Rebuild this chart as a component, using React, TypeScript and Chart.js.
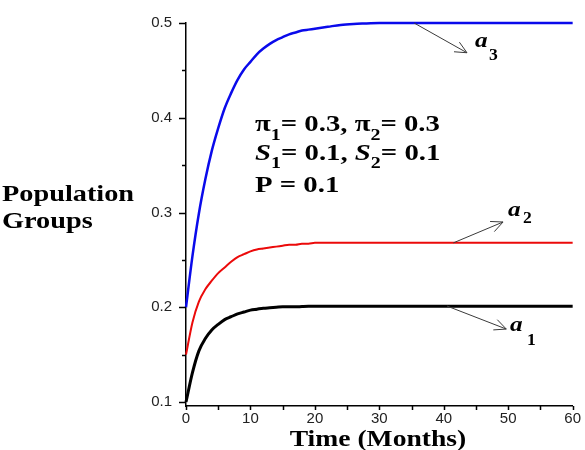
import { useEffect, useRef } from "react";
import { Chart, registerables } from "chart.js";

Chart.register(...registerables);

// Time in months
const months = [
  0, 1, 2, 3, 4, 5, 6, 7, 8, 9, 10, 11, 12, 13, 14, 15, 16, 17, 18, 19, 20,
  22, 24, 26, 28, 30, 35, 40, 45, 50, 55, 60,
];

// Population group a1 (black)
const groupA1 = [
  0.1, 0.131, 0.154, 0.167, 0.176, 0.182, 0.187, 0.19, 0.193, 0.195, 0.197,
  0.198, 0.199, 0.1995, 0.2, 0.2005, 0.2005, 0.2005, 0.2008, 0.201, 0.201,
  0.201, 0.201, 0.201, 0.201, 0.201, 0.201, 0.201, 0.201, 0.201, 0.201, 0.201,
];

// Population group a2 (red)
const groupA2 = [
  0.15, 0.184, 0.206, 0.219, 0.228, 0.236, 0.242, 0.248, 0.253, 0.256, 0.259,
  0.261, 0.262, 0.263, 0.264, 0.265, 0.266, 0.266, 0.267, 0.267, 0.268,
  0.268, 0.268, 0.268, 0.268, 0.268, 0.268, 0.268, 0.268, 0.268, 0.268, 0.268,
];

// Population group a3 (blue)
const groupA3 = [
  0.2, 0.254, 0.299, 0.335, 0.365, 0.389, 0.41, 0.426, 0.44, 0.451, 0.459,
  0.467, 0.473, 0.478, 0.482, 0.485, 0.488, 0.49, 0.492, 0.493, 0.494,
  0.496, 0.498, 0.499, 0.4995, 0.5, 0.5, 0.5, 0.5, 0.5, 0.5, 0.5,
];

const xTickValues = [0, 5, 10, 15, 20, 25, 30, 35, 40, 45, 50, 55, 60];
const yTickValues = [0.1, 0.15, 0.2, 0.25, 0.3, 0.35, 0.4, 0.45, 0.5];

// Curve labels: arrow from a point on the curve to the label (data coordinates)
const curveLabels = [
  { name: "a", sub: "3", from: [35.4, 0.5], to: [43.6, 0.4686], text: [475, 47], subAt: [489, 60] },
  { name: "a", sub: "2", from: [41.5, 0.268], to: [49.2, 0.29], text: [508, 216], subAt: [523, 223] },
  { name: "a", sub: "1", from: [40.5, 0.2013], to: [49.7, 0.177], text: [510, 331], subAt: [527, 345] },
];

const SERIF = "'Liberation Serif', 'Times New Roman', serif";
const SX = 1.2;

type Run = { t: string; font: string; dy?: number };

function drawRuns(ctx: CanvasRenderingContext2D, runs: Run[], x: number, y: number, sx = SX) {
  let cx = x;
  for (const r of runs) {
    ctx.save();
    ctx.font = r.font;
    ctx.textAlign = "left";
    ctx.textBaseline = "alphabetic";
    const w = ctx.measureText(r.t).width * sx;
    ctx.translate(cx, y + (r.dy || 0));
    ctx.scale(sx, 1);
    ctx.fillText(r.t, 0, 0);
    ctx.restore();
    cx += w;
  }
  return cx;
}

function drawCentered(ctx: CanvasRenderingContext2D, text: string, font: string, cx: number, y: number, sx = SX) {
  ctx.save();
  ctx.font = font;
  const w = ctx.measureText(text).width * sx;
  ctx.restore();
  drawRuns(ctx, [{ t: text, font }], cx - w / 2, y, sx);
}

function arrow(ctx: CanvasRenderingContext2D, x1: number, y1: number, x2: number, y2: number) {
  const ang = Math.atan2(y2 - y1, x2 - x1);
  const len = 13;
  const spread = (25 * Math.PI) / 180;
  ctx.beginPath();
  ctx.moveTo(x1, y1);
  ctx.lineTo(x2, y2);
  ctx.moveTo(x2 - len * Math.cos(ang - spread), y2 - len * Math.sin(ang - spread));
  ctx.lineTo(x2, y2);
  ctx.lineTo(x2 - len * Math.cos(ang + spread), y2 - len * Math.sin(ang + spread));
  ctx.stroke();
}

const decorations = {
  id: "decorations",
  afterDraw(chart: any) {
    const ctx: CanvasRenderingContext2D = chart.ctx;
    const xs = chart.scales.x;
    const ys = chart.scales.y;
    const { left, bottom } = chart.chartArea;

    ctx.save();
    // tick marks
    ctx.strokeStyle = "#000";
    ctx.lineWidth = 1.5;
    ctx.beginPath();
    for (const v of yTickValues) {
      const y = Math.round(ys.getPixelForValue(v)) + 0.5;
      const major = Math.abs(v * 10 - Math.round(v * 10)) < 1e-6;
      const len = major ? 7 : 4;
      ctx.moveTo(left - len, y);
      ctx.lineTo(left, y);
    }
    for (const v of xTickValues) {
      const x = Math.round(xs.getPixelForValue(v)) + 0.5;
      ctx.moveTo(x, bottom);
      ctx.lineTo(x, bottom + 4);
    }
    ctx.stroke();

    // arrows to curve labels
    ctx.strokeStyle = "#3a3a3a";
    ctx.lineWidth = 1;
    ctx.fillStyle = "#000";
    for (const c of curveLabels) {
      arrow(
        ctx,
        xs.getPixelForValue(c.from[0]),
        ys.getPixelForValue(c.from[1]),
        xs.getPixelForValue(c.to[0]),
        ys.getPixelForValue(c.to[1])
      );
      drawRuns(ctx, [{ t: c.name, font: `italic bold 21px ${SERIF}` }], c.text[0], c.text[1]);
      drawRuns(ctx, [{ t: c.sub, font: `bold 16px ${SERIF}` }], c.subAt[0], c.subAt[1], 1.1);
    }

    // parameter block
    const big = `bold 23px ${SERIF}`;
    const ital = `italic bold 23px ${SERIF}`;
    const sub = `bold 16px ${SERIF}`;
    const psx = 1.25;
    drawRuns(
      ctx,
      [
        { t: "\u03c0", font: big },
        { t: "1", font: sub, dy: 9 },
        { t: "= 0.3, ", font: big },
        { t: "\u03c0", font: big },
        { t: "2", font: sub, dy: 9 },
        { t: "= 0.3", font: big },
      ],
      255,
      131,
      psx
    );
    drawRuns(
      ctx,
      [
        { t: "S", font: ital },
        { t: "1", font: sub, dy: 8 },
        { t: "= 0.1, ", font: big },
        { t: "S", font: ital },
        { t: "2", font: sub, dy: 8 },
        { t: "= 0.1", font: big },
      ],
      255,
      160,
      psx
    );
    drawRuns(ctx, [{ t: "P = 0.1", font: big }], 255, 192, psx);

    // axis titles
    const title = `bold 23px ${SERIF}`;
    drawRuns(ctx, [{ t: "Population", font: title }], 2, 201, 1.23);
    drawRuns(ctx, [{ t: "Groups", font: title }], 2, 228, 1.23);
    drawCentered(ctx, "Time (Months)", title, 378, 446, 1.2);

    ctx.restore();
  },
};

export default function App() {
  const canvasRef = useRef<HTMLCanvasElement | null>(null);

  useEffect(() => {
    const canvas = canvasRef.current;
    if (!canvas) return;

    const series = (vals: number[]) => months.map((m, i) => ({ x: m, y: vals[i] }));

    const chart = new Chart(canvas, {
      type: "line",
      data: {
        datasets: [
          {
            label: "a3",
            data: series(groupA3),
            borderColor: "rgb(10, 10, 235)",
            borderWidth: 2.5,
            pointRadius: 0,
            cubicInterpolationMode: "monotone",
            clip: false,
          },
          {
            label: "a2",
            data: series(groupA2),
            borderColor: "rgb(235, 10, 10)",
            borderWidth: 2,
            pointRadius: 0,
            cubicInterpolationMode: "monotone",
            clip: false,
          },
          {
            label: "a1",
            data: series(groupA1),
            borderColor: "#000",
            borderWidth: 3,
            pointRadius: 0,
            cubicInterpolationMode: "monotone",
            clip: false,
          },
        ],
      },
      options: {
        animation: false,
        responsive: false,
        events: [],
        layout: { padding: { top: 13, right: 8, left: 0, bottom: 0 } },
        plugins: {
          legend: { display: false },
          tooltip: { enabled: false },
        },
        scales: {
          x: {
            type: "linear",
            min: 0,
            max: 60,
            grid: { display: true, drawOnChartArea: false, drawTicks: false },
            border: { display: true, color: "#000", width: 1.5 },
            afterBuildTicks: (s: any) => {
              s.ticks = xTickValues.map((v) => ({ value: v }));
            },
            afterFit: (s: any) => {
              s.height = 44;
            },
            ticks: {
              autoSkip: false,
              maxRotation: 0,
              padding: 4,
              color: "#222",
              font: { family: "'Liberation Sans', Arial, sans-serif", size: 15 },
              callback: (v: any) => (Number(v) % 10 === 0 ? String(v) : ""),
            },
          },
          y: {
            type: "linear",
            min: 0.0958,
            max: 0.5,
            grid: { display: true, drawOnChartArea: false, drawTicks: false },
            border: { display: true, color: "#000", width: 1.5 },
            afterBuildTicks: (s: any) => {
              s.ticks = yTickValues.map((v) => ({ value: v }));
            },
            afterFit: (s: any) => {
              s.width = 186;
            },
            ticks: {
              autoSkip: false,
              padding: 14,
              color: "#222",
              font: { family: "'Liberation Sans', Arial, sans-serif", size: 15 },
              callback: (v: any) => {
                const n = Number(v);
                return Math.abs(n * 10 - Math.round(n * 10)) < 1e-6 ? n.toFixed(1) : "";
              },
            },
          },
        },
      },
      plugins: [decorations],
    });

    return () => chart.destroy();
  }, []);

  return (
    <div style={{ position: "absolute", left: 0, top: 0, width: 585, height: 450, background: "#fff" }}>
      <canvas ref={canvasRef} width={585} height={450} />
    </div>
  );
}
